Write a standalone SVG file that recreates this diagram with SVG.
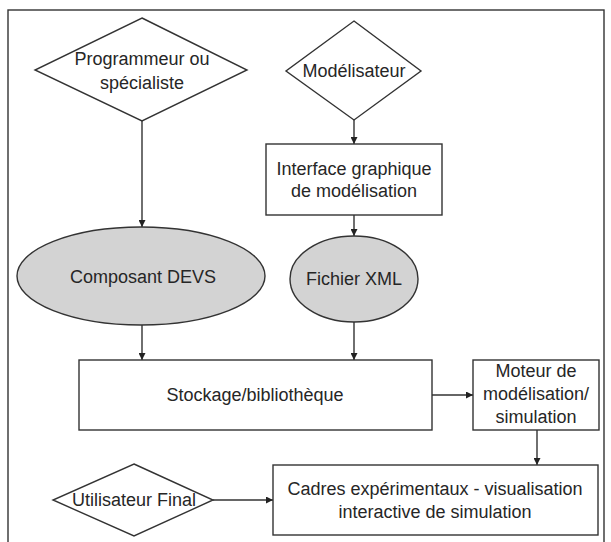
<svg xmlns="http://www.w3.org/2000/svg" width="611" height="542" viewBox="0 0 611 542">
  <defs>
    <marker id="arrow" viewBox="0 0 8 8" refX="8" refY="4" markerWidth="7" markerHeight="7" markerUnits="userSpaceOnUse" orient="auto">
      <path d="M0,0 L8,4 L0,8 Z" fill="#222"/>
    </marker>
    <style>
      .shape { fill: #ffffff; stroke: #333333; stroke-width: 1.4; }
      .oval { fill: #d3d3d3; stroke: #333333; stroke-width: 1.4; }
      .edge { fill: none; stroke: #333333; stroke-width: 1.4; marker-end: url(#arrow); }
      .label { font-family: "Liberation Sans", Arial, sans-serif; font-size: 18px; fill: #262626; text-anchor: middle; }
    </style>
  </defs>

  <rect width="611" height="542" fill="#ffffff"/>
  <!-- outer frame -->
  <rect x="8" y="10" width="596" height="540" fill="none" stroke="#333333" stroke-width="1.4"/>

  <g id="connectors">
    <line class="edge" x1="142" y1="121" x2="142" y2="227"/>
    <line class="edge" x1="354" y1="120" x2="354" y2="144"/>
    <line class="edge" x1="354" y1="215" x2="354" y2="236"/>
    <line class="edge" x1="142" y1="325" x2="142" y2="360"/>
    <line class="edge" x1="354" y1="322" x2="354" y2="360"/>
    <line class="edge" x1="432" y1="395" x2="473" y2="395"/>
    <line class="edge" x1="537" y1="430" x2="537" y2="465"/>
    <line class="edge" x1="213" y1="500" x2="273" y2="500"/>
  </g>

  <g id="programmeur">
    <polygon class="shape" points="142,18 247,70 142,121 35,70"/>
    <text class="label" x="142" y="65">Programmeur ou</text>
    <text class="label" x="142" y="89">spécialiste</text>
  </g>

  <g id="modelisateur">
    <polygon class="shape" points="354,21 421,71 354,120 286,71"/>
    <text class="label" x="354" y="77">Modélisateur</text>
  </g>

  <g id="interface">
    <rect class="shape" x="266" y="144" width="176" height="71"/>
    <text class="label" x="354" y="175">Interface graphique</text>
    <text class="label" x="354" y="197">de modélisation</text>
  </g>

  <g id="composant">
    <ellipse class="oval" cx="141" cy="276" rx="124" ry="49"/>
    <text class="label" x="143" y="283">Composant DEVS</text>
  </g>

  <g id="fichier">
    <ellipse class="oval" cx="354" cy="279" rx="64" ry="43"/>
    <text class="label" x="354" y="285">Fichier XML</text>
  </g>

  <g id="stockage">
    <rect class="shape" x="79" y="360" width="353" height="70"/>
    <text class="label" x="255" y="401">Stockage/bibliothèque</text>
  </g>

  <g id="moteur">
    <rect class="shape" x="473" y="360" width="126" height="70"/>
    <text class="label" x="536" y="377">Moteur de</text>
    <text class="label" x="536" y="400">modélisation/</text>
    <text class="label" x="536" y="423">simulation</text>
  </g>

  <g id="utilisateur">
    <polygon class="shape" points="134,464 213,500 134,536 53,500"/>
    <text class="label" x="134" y="506">Utilisateur Final</text>
  </g>

  <g id="cadres">
    <rect class="shape" x="273" y="465" width="325" height="70"/>
    <text class="label" x="435" y="495">Cadres expérimentaux - visualisation</text>
    <text class="label" x="435" y="518">interactive de simulation</text>
  </g>
</svg>
